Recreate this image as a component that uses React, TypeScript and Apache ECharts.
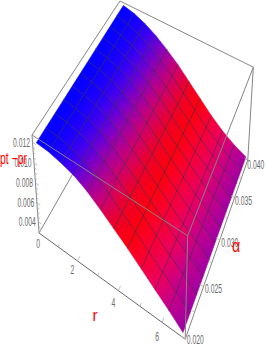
import React, { useEffect, useRef } from "react";
import * as echarts from "echarts";

const rRange = [0, 7];
const alphaRange = [0.02, 0.04];
const zRange = [0.0028, 0.0127];
const surfaceR = [0.2, 6.9];

const rTicks = [0, 2, 4, 6];
const rMinorTicks = [1, 3, 5, 7];
const alphaTicks = [0.02, 0.025, 0.03, 0.035, 0.04];
const alphaMinorTicks = [0.0225, 0.0275, 0.0325, 0.0375];
const zTicks = [0.004, 0.006, 0.008, 0.01, 0.012];
const zMinorTicks = [0.0035, 0.0045, 0.005, 0.0055, 0.0065, 0.007, 0.0075, 0.0085, 0.009, 0.0095, 0.0105, 0.011, 0.0115, 0.0125];

// Surface height at 12 equally spaced r stations, one row per alpha.
const zAlpha020 = [0.0122, 0.0121, 0.0118, 0.0114, 0.0107, 0.0098, 0.0088, 0.0078, 0.0067, 0.0056, 0.0045, 0.0033];
const zAlpha025 = [0.01225, 0.0121, 0.0118, 0.0113, 0.0105, 0.0096, 0.0086, 0.0075, 0.0064, 0.0053, 0.0043, 0.0032];
const zAlpha030 = [0.0123, 0.0121, 0.0117, 0.0111, 0.0103, 0.0094, 0.0083, 0.0072, 0.0061, 0.005, 0.0041, 0.0032];
const zAlpha035 = [0.01235, 0.01205, 0.0116, 0.011, 0.0102, 0.0092, 0.008, 0.0069, 0.0057, 0.0047, 0.0038, 0.0031];
const zAlpha040 = [0.0124, 0.0121, 0.0116, 0.0109, 0.01, 0.009, 0.0078, 0.0066, 0.0054, 0.0044, 0.0036, 0.003];
const zRows = [zAlpha020, zAlpha025, zAlpha030, zAlpha035, zAlpha040];

const colorR = [0, 1.2, 2, 3, 4.2, 5.5, 6.3, 7];
const colorRGB = [
  [0, 0, 255],
  [20, 0, 255],
  [85, 0, 230],
  [195, 0, 135],
  [255, 0, 0],
  [245, 0, 80],
  [195, 0, 140],
  [155, 0, 165],
];

// Where the unit box's corners land on the page: [u, v, w, px, py]
const boxAnchors = [
  [0, 0, 0, 39, 233],
  [1, 0, 0, 185, 339],
  [1, 1, 0, 248, 160],
  [0, 0, 1, 32, 135],
  [1, 0, 1, 188, 236],
  [1, 1, 1, 253, 67],
  [0, 1, 1, 120, 1],
];

function solve(A: number[][], b: number[]) {
  const n = b.length;
  const M = A.map((row, i) => [...row, b[i]]);
  for (let c = 0; c < n; c++) {
    let p = c;
    for (let i = c + 1; i < n; i++) if (Math.abs(M[i][c]) > Math.abs(M[p][c])) p = i;
    [M[c], M[p]] = [M[p], M[c]];
    for (let i = 0; i < n; i++) {
      if (i === c) continue;
      const f = M[i][c] / M[c][c];
      for (let k = c; k <= n; k++) M[i][k] -= f * M[c][k];
    }
  }
  return M.map((row, i) => row[n] / row[i]);
}

function fitCamera() {
  const rows: number[][] = [];
  const rhs: number[] = [];
  boxAnchors.forEach(([u, v, w, x0, y0]) => {
    const x = x0 / 300;
    const y = y0 / 300;
    rows.push([u, v, w, 1, 0, 0, 0, 0, -x * u, -x * v, -x * w]);
    rhs.push(x);
    rows.push([0, 0, 0, 0, u, v, w, 1, -y * u, -y * v, -y * w]);
    rhs.push(y);
  });
  const N = 11;
  const AtA = Array.from({ length: N }, (_, i) =>
    Array.from({ length: N }, (_, j) => rows.reduce((s, r) => s + r[i] * r[j], 0))
  );
  const Atb = Array.from({ length: N }, (_, i) => rows.reduce((s, r, k) => s + r[i] * rhs[k], 0));
  return solve(AtA, Atb);
}
const cam = fitCamera();

function project(r: number, a: number, z: number) {
  const u = (r - rRange[0]) / (rRange[1] - rRange[0]);
  const v = (a - alphaRange[0]) / (alphaRange[1] - alphaRange[0]);
  const w = (z - zRange[0]) / (zRange[1] - zRange[0]);
  const d = cam[8] * u + cam[9] * v + cam[10] * w + 1;
  return [
    (300 * (cam[0] * u + cam[1] * v + cam[2] * w + cam[3])) / d,
    (300 * (cam[4] * u + cam[5] * v + cam[6] * w + cam[7])) / d,
  ];
}

const MESH = 11;
const rAt = (j: number) => surfaceR[0] + ((surfaceR[1] - surfaceR[0]) * j) / MESH;
const aAt = (k: number) => alphaRange[0] + ((alphaRange[1] - alphaRange[0]) * k) / MESH;
function zAt(j: number, k: number) {
  const pos = (k / MESH) * (zRows.length - 1);
  const lo = Math.min(Math.floor(pos), zRows.length - 2);
  const t = pos - lo;
  return zRows[lo][j] * (1 - t) + zRows[lo + 1][j] * t;
}
function colorAt(r: number) {
  let i = 0;
  while (i < colorR.length - 2 && r > colorR[i + 1]) i++;
  const t = (r - colorR[i]) / (colorR[i + 1] - colorR[i]);
  const c = colorRGB[i].map((v, n) => Math.round(v + (colorRGB[i + 1][n] - v) * t));
  return `rgb(${c[0]},${c[1]},${c[2]})`;
}

const cellData: number[][] = [];
for (let k = MESH - 1; k >= 0; k--) for (let j = 0; j < MESH; j++) cellData.push([j, k]);
const meshData: number[][] = [];
for (let i = 1; i < MESH; i++) {
  meshData.push([0, i]);
  meshData.push([1, i]);
}

const [r0, r1] = rRange;
const [a0, a1] = alphaRange;
const [z0, z1] = zRange;
const backEdges = [
  [r0, a0, z0, r0, a0, z1],
  [r0, a0, z1, r0, a1, z1],
  [r0, a1, z1, r1, a1, z1],
  [r1, a1, z1, r1, a1, z0],
  [r0, a0, z0, r0, a1, z0],
  [r0, a1, z0, r1, a1, z0],
  [r1, a0, z0, r1, a1, z0],
];
const rAxisEdge = [[r0, a0, z0, r1, a0, z0]];
const frontEdges = [
  [r0, a0, z1, r1, a0, z1],
  [r1, a0, z1, r1, a1, z1],
  [r1, a0, z1, r1, a0, z0],
];
const TICK_R = 0.11;
const TICK_A = 0.0003;
const tickData = [
  ...rTicks.map((r) => [r, a0, z0, r, a0 + TICK_A * 1.6, z0]),
  ...rMinorTicks.map((r) => [r, a0, z0, r, a0 + TICK_A, z0]),
  ...alphaTicks.map((a) => [r1, a, z0, r1 - TICK_R * 1.6, a, z0]),
  ...alphaMinorTicks.map((a) => [r1, a, z0, r1 - TICK_R, a, z0]),
  ...zTicks.map((z) => [r0, a0, z, r0 + TICK_R * 1.6, a0, z]),
  ...zMinorTicks.map((z) => [r0, a0, z, r0 + TICK_R, a0, z]),
];

const FRAME = "#858585";
const TICK_TEXT = "#6a6a6a";
const TITLE = "#ff0000";
const FONT = "'Liberation Sans', sans-serif";

const rLabelDx = [-1, -5, -5, -5];
const rLabelDy = [11, 9, 12, 14];
const alphaLabelDx = [10, 10, 10, 9, 8];
const alphaLabelDy = [0, 2, 3, 3, 5];
const zLabelDx = [-11, -11, -11, -11, -11];
const zLabelDy = [0, 0, 0, 0, 0];

const textEl = (text: string, x: number, y: number, size: number, scaleX: number, fill: string) => ({
  type: "text",
  x,
  y,
  scaleX,
  style: { text, x: 0, y: 0, fontSize: size, fontFamily: FONT, fill, align: "center", verticalAlign: "middle" },
});

const lineSeries = (data: number[][], z: number, stroke: string, lineWidth: number) => ({
  type: "custom",
  coordinateSystem: "cartesian2d",
  clip: false,
  silent: true,
  z,
  data,
  renderItem: (_: any, api: any) => {
    const v = [0, 1, 2, 3, 4, 5].map((i) => api.value(i));
    const p = api.coord(project(v[0], v[1], v[2]));
    const q = api.coord(project(v[3], v[4], v[5]));
    return {
      type: "line",
      shape: { x1: p[0], y1: p[1], x2: q[0], y2: q[1] },
      style: { stroke, lineWidth, fill: "none" },
    };
  },
});

const labelSeries = (
  data: number[][],
  z: number,
  fmt: (v: number[]) => string,
  dx: number[],
  dy: number[]
) => ({
  type: "custom",
  coordinateSystem: "cartesian2d",
  clip: false,
  silent: true,
  z,
  data,
  renderItem: (params: any, api: any) => {
    const v = [0, 1, 2].map((i) => api.value(i));
    const p = api.coord(project(v[0], v[1], v[2]));
    const i = params.dataIndex;
    return textEl(fmt(v), p[0] + dx[i], p[1] + dy[i], 13, 0.52, TICK_TEXT);
  },
});

const titleLabels = ["pt \u2212pr", "r", "\u03b1"];

export default function App() {
  const ref = useRef<HTMLDivElement>(null);
  useEffect(() => {
    const chart = echarts.init(ref.current!, undefined, { renderer: "svg" });
    chart.setOption({
      animation: false,
      backgroundColor: "#ffffff",
      grid: { left: 0, right: 0, top: 0, bottom: 0 },
      xAxis: { type: "value", min: 0, max: 266, show: false },
      yAxis: { type: "value", min: 0, max: 346, inverse: true, show: false },
      series: [
        lineSeries(backEdges, 1, FRAME, 1),
        lineSeries(rAxisEdge, 1, "#666666", 1),
        {
          type: "custom",
          coordinateSystem: "cartesian2d",
          clip: false,
          silent: true,
          z: 2,
          data: cellData,
          renderItem: (_: any, api: any) => {
            const j = api.value(0);
            const k = api.value(1);
            const pt = (jj: number, kk: number) => api.coord(project(rAt(jj), aAt(kk), zAt(jj, kk)));
            const a = pt(j, k);
            const b = pt(j + 1, k);
            const c = pt(j + 1, k + 1);
            const d = pt(j, k + 1);
            const grad = {
              type: "linear",
              global: true,
              x: (a[0] + d[0]) / 2,
              y: (a[1] + d[1]) / 2,
              x2: (b[0] + c[0]) / 2,
              y2: (b[1] + c[1]) / 2,
              colorStops: [
                { offset: 0, color: colorAt(rAt(j)) },
                { offset: 1, color: colorAt(rAt(j + 1)) },
              ],
            };
            return {
              type: "polygon",
              shape: { points: [a, b, c, d] },
              style: { fill: grad, stroke: grad, lineWidth: 0.6 },
            };
          },
        },
        {
          type: "custom",
          coordinateSystem: "cartesian2d",
          clip: false,
          silent: true,
          z: 3,
          data: meshData,
          renderItem: (_: any, api: any) => {
            const dir = api.value(0);
            const i = api.value(1);
            const pts: number[][] = [];
            for (let n = 0; n <= MESH; n++) {
              const jj = dir === 0 ? i : n;
              const kk = dir === 0 ? n : i;
              pts.push(api.coord(project(rAt(jj), aAt(kk), zAt(jj, kk))));
            }
            return {
              type: "polyline",
              shape: { points: pts },
              style: { stroke: "rgba(50,40,65,0.62)", lineWidth: 0.9, fill: "none" },
            };
          },
        },
        lineSeries(frontEdges, 4, FRAME, 1),
        lineSeries(tickData, 4, "#b0b0b0", 0.8),
        labelSeries(rTicks.map((r) => [r, a0, z0]), 5, (v) => String(v[0]), rLabelDx, rLabelDy),
        labelSeries(alphaTicks.map((a) => [r1, a, z0]), 5, (v) => v[1].toFixed(3), alphaLabelDx, alphaLabelDy),
        labelSeries(zTicks.map((z) => [r0, a0, z]), 5, (v) => v[2].toFixed(3), zLabelDx, zLabelDy),
        {
          type: "custom",
          coordinateSystem: "cartesian2d",
          clip: false,
          silent: true,
          z: 6,
          data: [
            [0, 13.5, 159],
            [1, 95, 315],
            [2, 236, 246],
          ],
          renderItem: (_: any, api: any) => {
            const i = api.value(0);
            const p = api.coord([api.value(1), api.value(2)]);
            const sizes = [16, 17, 19];
            const sx = [0.65, 0.9, 0.75];
            return textEl(titleLabels[i], p[0], p[1], sizes[i], sx[i], TITLE);
          },
        },
      ],
    });
    return () => chart.dispose();
  }, []);
  return <div ref={ref} style={{ position: "fixed", left: 0, top: 0, width: 266, height: 346 }} />;
}
